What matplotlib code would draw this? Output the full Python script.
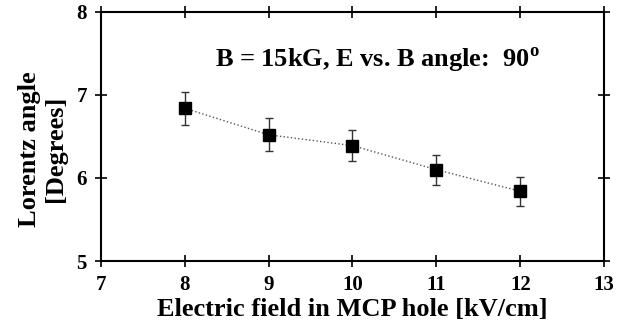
import numpy as np
import matplotlib.pyplot as plt

# data
field = [8, 9, 10, 11, 12]
angle = [6.84, 6.52, 6.39, 6.10, 5.84]
err = [0.20, 0.20, 0.19, 0.18, 0.175]

plt.rcParams['font.family'] = ['Liberation Serif', 'DejaVu Serif']
plt.rcParams['font.weight'] = 'bold'

fig = plt.figure(figsize=(6.3, 3.3), dpi=100)
ax = fig.add_axes([0.160, 0.209, 0.799, 0.755])

ax.plot(field, angle, color='#555555', ls=':', lw=1.0)
ax.errorbar(field, angle, yerr=err, fmt='s', color='black', ms=8,
            ecolor='#333333', elinewidth=1.0, capsize=3, capthick=1.0)

ax.set_xlim(7, 13)
ax.set_ylim(5, 8)
ax.set_xticks(np.arange(7, 14, 1))
ax.set_yticks([5, 6, 7, 8])
ax.tick_params(direction='inout', length=8, width=1.2, labelsize=15,
               top=True, right=True, pad=6)
for s in ax.spines.values():
    s.set_linewidth(1.5)
for lbl in ax.get_xticklabels() + ax.get_yticklabels():
    lbl.set_fontweight('bold')

ax.set_xlabel('Electric field in MCP hole [kV/cm]', fontsize=19,
              fontweight='bold', labelpad=2)
ax.set_ylabel('Lorentz angle\n[Degrees]', fontsize=19, fontweight='bold',
              linespacing=1.15)
ax.yaxis.set_label_coords(-0.068, 0.45)
ax.text(8.36, 7.42, r'B = 15kG, E vs. B angle:  90$^\mathregular{o}$',
        fontsize=19, fontweight='bold', va='center', ha='left')

fig.savefig('out.png', dpi=100)
